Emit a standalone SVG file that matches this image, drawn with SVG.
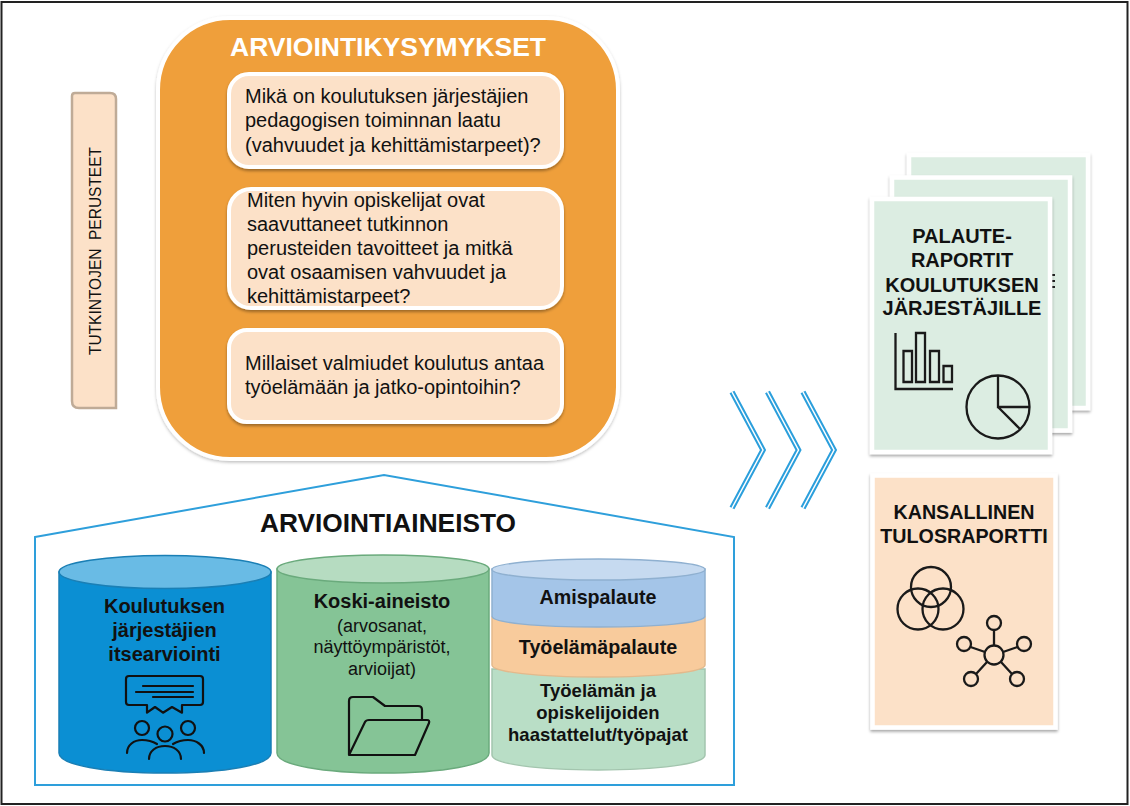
<svg xmlns="http://www.w3.org/2000/svg" width="1130" height="806" viewBox="0 0 1130 806">
<style>
text{font-family:"Liberation Sans",Arial,sans-serif;fill:#111}
.q{font-size:20px}
.b{font-weight:bold}
.m{text-anchor:middle}
.ic{fill:none;stroke:#111;stroke-width:2.200;stroke-linejoin:round;stroke-linecap:round}
.ic2{fill:none;stroke:#1a1a1a;stroke-width:2.300}
.card{fill:#fce1c8;stroke:#fff;stroke-width:4}
.page{stroke:#fff;stroke-width:4.500}
.chev{fill:none;stroke:#2b9fdc;stroke-width:5.500;stroke-linejoin:miter}
.chevi{fill:none;stroke:#fff;stroke-width:1.500;stroke-linejoin:miter}
</style>
<defs>
<filter id="sh" x="-10%" y="-10%" width="120%" height="120%"><feDropShadow dx="0" dy="2" stdDeviation="1.500" flood-color="#000" flood-opacity=".35"/></filter>
<filter id="sh2" x="-10%" y="-10%" width="120%" height="120%"><feDropShadow dx="0" dy="1.500" stdDeviation="1.500" flood-color="#000" flood-opacity=".25"/></filter>
<polyline id="cv" points="732,392 763,450 732,508"/>
</defs>
<rect width="1130" height="806" fill="#fff"/>
<rect x="1.500" y="2" width="1126" height="802" fill="none" stroke="#222" stroke-width="2"/>

<g id="perusteet">
<path d="M72 96Q72 93 75 93H110Q116 93 116 99V408H79Q72 408 72 401Z" fill="#fce1c8" stroke="#bfab97" stroke-width="2.500"/>
<text transform="translate(101 251) rotate(-90)" class="m" font-size="17" textLength="208" lengthAdjust="spacingAndGlyphs" xml:space="preserve">TUTKINTOJEN  PERUSTEET</text>
</g>

<g id="kysymykset">
<rect x="158" y="18" width="460" height="441" rx="72" fill="#ef9f3a" stroke="#fff" stroke-width="4" filter="url(#sh2)"/>
<text x="388" y="56" class="m b" font-size="25.500" style="fill:#fff" textLength="316" lengthAdjust="spacingAndGlyphs">ARVIOINTIKYSYMYKSET</text>
<g id="q1"><rect x="229" y="74" width="333" height="93" rx="20" class="card" filter="url(#sh)"/>
<text class="q"><tspan x="245" y="103">Mikä on koulutuksen järjestäjien</tspan><tspan x="245" y="127">pedagogisen toiminnan laatu</tspan><tspan x="245" y="152">(vahvuudet ja kehittämistarpeet)?</tspan></text></g>
<g id="q2"><rect x="229" y="189" width="333" height="119" rx="22" class="card" filter="url(#sh)"/>
<text class="q"><tspan x="247" y="207">Miten hyvin opiskelijat ovat</tspan><tspan x="247" y="231">saavuttaneet tutkinnon</tspan><tspan x="247" y="255">perusteiden tavoitteet ja mitkä</tspan><tspan x="247" y="279">ovat osaamisen vahvuudet ja</tspan><tspan x="247" y="303">kehittämistarpeet?</tspan></text></g>
<g id="q3"><rect x="229" y="330" width="333" height="92" rx="18" class="card" filter="url(#sh)"/>
<text class="q"><tspan x="245" y="370">Millaiset valmiudet koulutus antaa</tspan><tspan x="245" y="394">työelämään ja jatko-opintoihin?</tspan></text></g>
</g>

<g id="aineisto">
<polygon points="35,537 384,475 734,537 734,785 35,785" fill="#fff" stroke="#2e9fdb" stroke-width="2"/>
<text x="388" y="532" class="m b" font-size="25.500" textLength="256" lengthAdjust="spacingAndGlyphs">ARVIOINTIAINEISTO</text>
</g>

<g id="itsearviointi">
<path d="M59 572V753C59 765 105 773 165 773S271 765 271 753V572Z" fill="#0b8fd3" stroke="#1a7fb5" stroke-width="1.500"/>
<ellipse cx="165" cy="572" rx="106" ry="16.500" fill="#69bbe5" stroke="#1a7fb5" stroke-width="1.500"/>
<text class="b m" font-size="20"><tspan x="164.500" y="613">Koulutuksen</tspan><tspan x="164.500" y="637">järjestäjien</tspan><tspan x="164.500" y="661">itsearviointi</tspan></text>
<path class="ic" d="M129 676H200Q203 676 203 679V702Q203 705 200 705H182V712.700L172 707 163 712.700 155 707 147 712.700V705H129Q126 705 126 702V679Q126 676 129 676ZM143 686H193M136 692H193M153 697H193"/>
<circle class="ic" cx="142" cy="728" r="7"/><circle class="ic" cx="188" cy="728" r="7"/><circle class="ic" cx="165" cy="734" r="7.500"/>
<path class="ic" d="M127 753C127 745 134 740 142 740 147 740 152 741 157 744M204 753C204 745 196 740 188 740 183 740 178 741 173 744M149 759C149 751 156 746 165 746S181 751 181 759"/>
</g>

<g id="koski">
<path d="M277 569V753C277 765 323 773 383 773S489 765 489 753V569Z" fill="#85c496" stroke="#6aaa7c" stroke-width="1.500"/>
<ellipse cx="383" cy="569" rx="106" ry="14" fill="#b6dcc1" stroke="#6aaa7c" stroke-width="1.500"/>
<text class="m" font-size="18"><tspan x="382" y="608" class="b" font-size="20">Koski-aineisto</tspan><tspan x="382" y="632">(arvosanat,</tspan><tspan x="382" y="653">näyttöympäristöt,</tspan><tspan x="382" y="675">arvioijat)</tspan></text>
<path class="ic" d="M349 755V701Q349 697 353 697H373L385 706H418Q422 706 422 710V720M349 755L365 722Q366 720 369 720H427Q430 720 429 723L415 755Z"/>
</g>

<g id="palautteet">
<path d="M492 669V755C492 764 538 770 598 770S705 764 705 755V669Z" fill="#b9dec6" stroke="#a3c5ae" stroke-width="1.500"/>
<path d="M492 617V665C492 672 538 677 598 677S705 672 705 665V617Z" fill="#f8cb9c" stroke="#e3b98c" stroke-width="1.500"/>
<path d="M492 569V616C492 623 538 627 598 627S705 623 705 616V569Z" fill="#a4c5e8" stroke="#8fb0d0" stroke-width="1.500"/>
<ellipse cx="598.500" cy="569.500" rx="106.500" ry="10.500" fill="#c6daf0" stroke="#8fb0d0" stroke-width="1.500"/>
<text class="b m" font-size="19.700"><tspan x="598" y="604">Amispalaute</tspan><tspan x="598" y="654">Työelämäpalaute</tspan><tspan x="598" y="697" font-size="18.500">Työelämän ja</tspan><tspan x="598" y="719" font-size="18.500">opiskelijoiden</tspan><tspan x="598" y="741" font-size="18.500">haastattelut/työpajat</tspan></text>
</g>

<g id="nuolet">
<use href="#cv" class="chev"/><use href="#cv" class="chevi"/>
<use href="#cv" x="35.500" class="chev"/><use href="#cv" x="35.500" class="chevi"/>
<use href="#cv" x="71" class="chev"/><use href="#cv" x="71" class="chevi"/>
</g>

<g id="palauteraportit">
<rect x="909" y="155" width="179" height="253" fill="#dcede2" class="page" filter="url(#sh)"/>
<rect x="892" y="177.500" width="178" height="253" fill="#dcede2" class="page" filter="url(#sh)"/>
<path d="M1052 274h3v2h-3zM1052 280h3v2h-3zM1052 286h3v2h-3z" fill="#222"/>
<rect x="872" y="199" width="178" height="253" fill="#dcede2" class="page" filter="url(#sh)"/>
<text class="b m" font-size="20"><tspan x="962" y="243">PALAUTE-</tspan><tspan x="962" y="267">RAPORTIT</tspan><tspan x="962" y="292">KOULUTUKSEN</tspan><tspan x="962" y="315">JÄRJESTÄJILLE</tspan></text>
<path class="ic2" d="M895.500 333V389H953M903.500 351h8.500v31h-8.500zM916 333h9v49h-9zM930 351h9v31h-9zM943.500 366h8.500v16h-8.500z"/>
<circle class="ic2" cx="998" cy="407" r="31.500"/>
<path class="ic2" d="M998 375.500V407H1029.500M998 407L1020 429"/>
</g>

<g id="tulosraportti">
<rect x="872.500" y="475.500" width="183" height="252" fill="#fce1c8" class="page" filter="url(#sh)"/>
<text class="b m" font-size="19.700"><tspan x="964" y="519">KANSALLINEN</tspan><tspan x="964" y="543">TULOSRAPORTTI</tspan></text>
<g class="ic2"><circle cx="931" cy="587" r="20"/><circle cx="918" cy="609" r="20.500"/><circle cx="943" cy="609" r="20.500"/>
<circle cx="994" cy="655" r="9.500"/><circle cx="994" cy="623" r="7"/><circle cx="964" cy="644" r="7"/><circle cx="1024" cy="644" r="7"/><circle cx="971" cy="679" r="7"/><circle cx="1017" cy="679" r="7"/>
<path d="M994 630V645.500M970.500 647L985 652M1017.500 647L1003 652M976 674L987 662M1012 674L1001 662"/></g>
</g>
</svg>
